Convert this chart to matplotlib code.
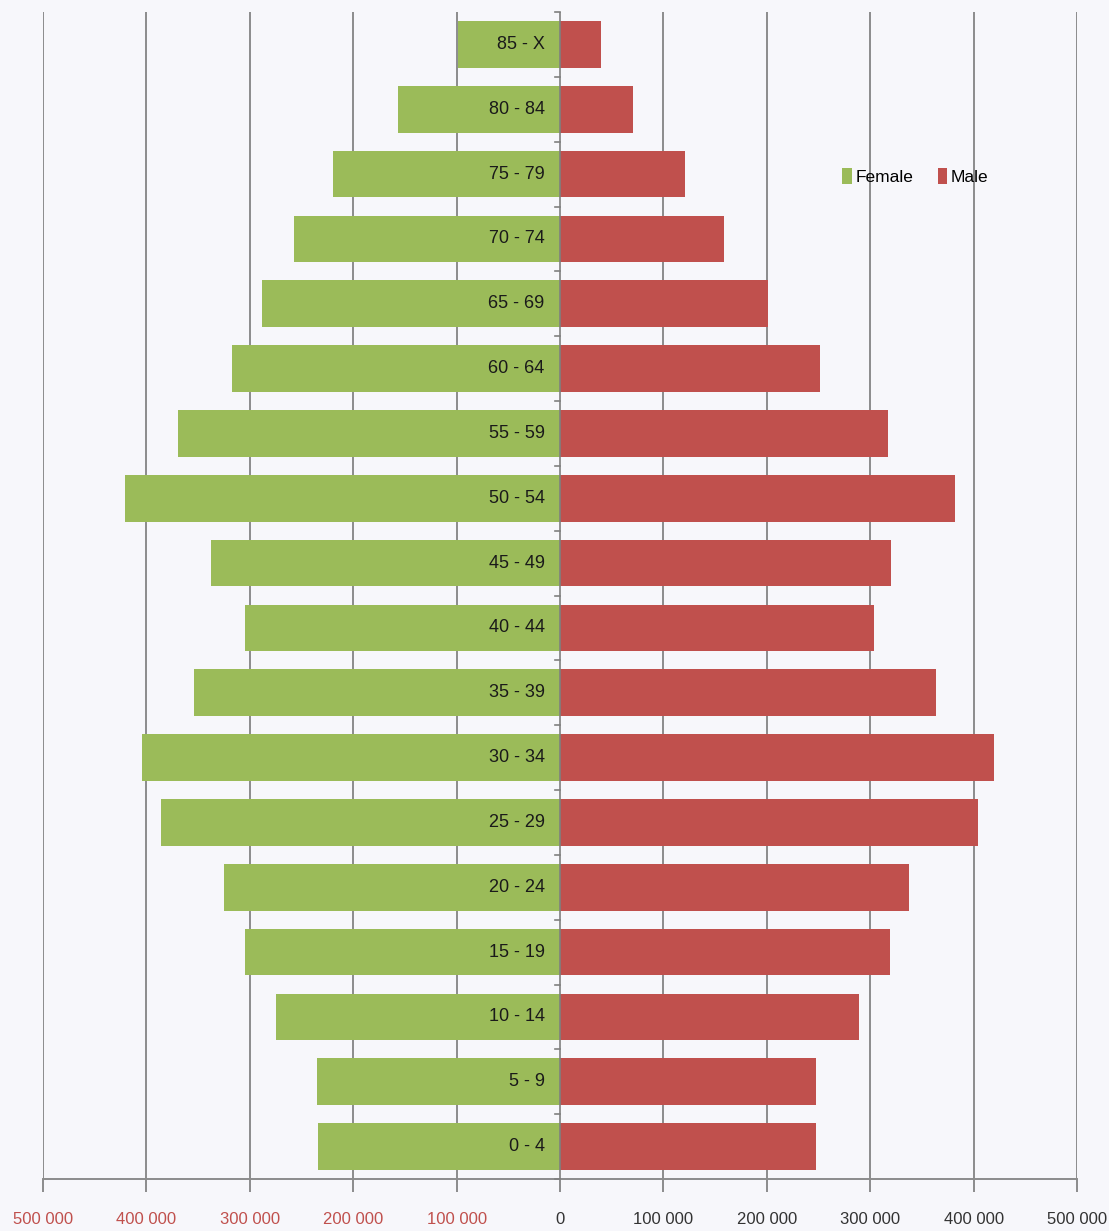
import numpy as np
import matplotlib.pyplot as plt
from matplotlib.ticker import FuncFormatter

# Age groups, bottom to top
ages = ["0 - 4", "5 - 9", "10 - 14", "15 - 19", "20 - 24", "25 - 29", "30 - 34",
        "35 - 39", "40 - 44", "45 - 49", "50 - 54", "55 - 59", "60 - 64",
        "65 - 69", "70 - 74", "75 - 79", "80 - 84", "85 - X"]
female = [234000, 235000, 275000, 305000, 325000, 386000, 404000, 354000, 305000,
          338000, 421000, 369000, 317000, 288000, 257000, 220000, 157000, 99000]
male = [248000, 248000, 289000, 319000, 337000, 404000, 420000, 364000, 304000,
        320000, 382000, 317000, 251000, 201000, 159000, 121000, 71000, 40000]

green = "#9BBB59"
red = "#C0504D"
bg = "#F7F7FB"
font = ["Liberation Sans", "DejaVu Sans"]

fig = plt.figure(figsize=(11.09, 12.31), dpi=100, facecolor=bg)
ax = fig.add_axes([0.0388, 0.0422, 0.9324, 0.948])
ax.set_facecolor(bg)

y = np.arange(len(ages))
ax.barh(y, [-v for v in female], height=0.72, color=green, label="Female", zorder=3)
ax.barh(y, male, height=0.72, color=red, label="Male", zorder=3)

ax.set_xlim(-500000, 500000)
ax.set_ylim(-0.5, len(ages) - 0.5)

# vertical gridlines
for x in range(-500000, 500001, 100000):
    if x != 0:
        ax.axvline(x, color="#8C8C8C", lw=1.4, zorder=1)

# central axis with small ticks between age groups
ax.axvline(0, color="#7F7F7F", lw=1.2, zorder=4)
for b in np.arange(-0.5, len(ages), 1.0):
    ax.plot([-5000, 0], [b, b], color="#7F7F7F", lw=1.2, zorder=4, clip_on=False)

# age labels inside the bars
for yi, lab in zip(y, ages):
    ax.text(-15000, yi, lab, ha="right", va="center", fontsize=13,
            family=font, color="#1A1A1A", zorder=5)

for side in ["top", "right", "left"]:
    ax.spines[side].set_visible(False)
ax.spines["bottom"].set_color("#8C8C8C")
ax.spines["bottom"].set_linewidth(1.4)

ax.set_yticks([])
ax.set_xticks(range(-500000, 500001, 100000))
ax.xaxis.set_major_formatter(FuncFormatter(lambda v, p: f"{abs(int(v)):,}".replace(",", " ")))
ax.tick_params(axis="x", length=9, width=1.4, color="#8C8C8C", pad=15, labelsize=12)
for lab in ax.get_xticklabels():
    lab.set_family(font)
    lab.set_color(red if lab.get_position()[0] < 0 else "#333333")

ax.legend(loc="upper left", bbox_to_anchor=(0.758, 0.88), ncol=2, frameon=False,
          handlelength=0.55, handleheight=1.1, handletextpad=0.2,
          columnspacing=1.4, prop={"family": font, "size": 12.5})

fig.savefig("out.png", dpi=100, facecolor=bg)
